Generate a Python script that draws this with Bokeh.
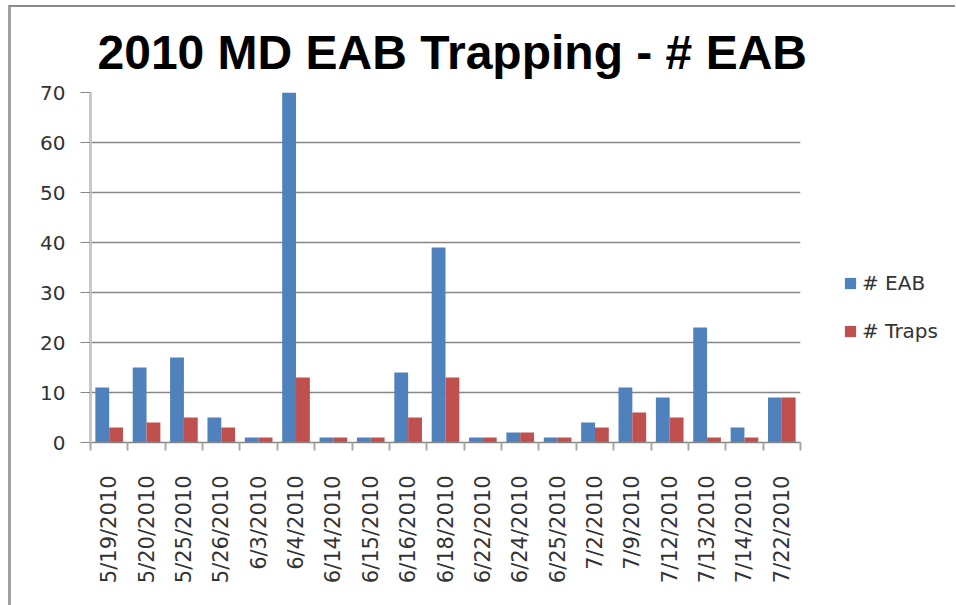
from bokeh.plotting import figure
from bokeh.models import (ColumnDataSource, Range1d, FixedTicker, Legend, LegendItem)
from bokeh.layouts import row
from bokeh.embed import file_html
from bokeh.resources import INLINE
from math import pi

dates = ["5/19/2010", "5/20/2010", "5/25/2010", "5/26/2010", "6/3/2010", "6/4/2010",
         "6/14/2010", "6/15/2010", "6/16/2010", "6/18/2010", "6/22/2010", "6/24/2010",
         "6/25/2010", "7/2/2010", "7/9/2010", "7/12/2010", "7/13/2010", "7/14/2010",
         "7/22/2010"]
eab = [11, 15, 17, 5, 1, 70, 1, 1, 14, 39, 1, 2, 1, 4, 11, 9, 23, 3, 9]
traps = [3, 4, 5, 3, 1, 13, 1, 1, 5, 13, 1, 2, 1, 3, 6, 5, 1, 1, 9]
y_ticks = [0, 10, 20, 30, 40, 50, 60, 70]
series_names = ["# EAB", "# Traps"]
series_colors = ["#4F81BD", "#C0504D"]

idx = list(range(len(dates)))
bw = 0.37
src = ColumnDataSource(dict(
    x_eab=[i - bw / 2 for i in idx],
    x_trap=[i + bw / 2 for i in idx],
    eab=eab, traps=traps, date=dates))

H = 598
p = figure(width=799, height=H, output_backend="svg", toolbar_location=None,
           x_range=Range1d(-0.5, len(dates) - 0.5), y_range=Range1d(0, 70),
           min_border_left=79, min_border_right=10, min_border_top=85,
           min_border_bottom=H - 435, title="2010 MD EAB Trapping - # EAB")

p.title.text_font = "Liberation Sans"
p.title.text_font_style = "bold"
p.title.text_font_size = "48px"
p.title.align = "left"
p.title.offset = 7
p.title.text_color = "#000000"
p.title.vertical_align = "bottom"
p.title.standoff = 28

p.vbar(x="x_eab", top="eab", width=bw, source=src, fill_color=series_colors[0], line_color=None)
p.vbar(x="x_trap", top="traps", width=bw, source=src, fill_color=series_colors[1], line_color=None)

p.outline_line_color = None
p.xgrid.grid_line_color = None
p.ygrid.grid_line_color = "#868686"
p.ygrid.grid_line_width = 1.5
p.ygrid.ticker = FixedTicker(ticks=y_ticks)

p.yaxis.ticker = FixedTicker(ticks=y_ticks)
p.yaxis.axis_line_color = "#c8c8c8"
p.yaxis.axis_line_width = 3
p.yaxis.major_tick_out = 10
p.yaxis.major_tick_in = 0
p.yaxis.major_tick_line_color = "#868686"
p.yaxis.minor_tick_line_color = None
p.yaxis.major_label_text_font = "DejaVu Sans"
p.yaxis.major_label_text_font_size = "20px"
p.yaxis.major_label_text_color = "#333333"
p.yaxis.major_label_standoff = 15

p.xaxis.ticker = FixedTicker(ticks=idx, minor_ticks=[i - 0.5 for i in range(len(dates) + 1)])
p.xaxis.major_label_overrides = {i: d for i, d in zip(idx, dates)}
p.xaxis.major_label_orientation = pi / 2
p.xaxis.major_tick_line_color = None
p.xaxis.major_tick_out = 0
p.xaxis.major_tick_in = 0
p.xaxis.minor_tick_out = 8
p.xaxis.minor_tick_in = 0
p.xaxis.minor_tick_line_color = "#a8a8a8"
p.xaxis.minor_tick_line_width = 2
p.xaxis.axis_line_color = "#868686"
p.xaxis.axis_line_width = 1.5
p.xaxis.major_label_text_font = "DejaVu Sans"
p.xaxis.major_label_text_font_size = "21px"
p.xaxis.major_label_text_color = "#333333"
p.xaxis.major_label_standoff = 25

# legend panel (separate figure so that the legend is not clipped)
lg = figure(width=145, height=H, output_backend="svg", toolbar_location=None,
            x_range=Range1d(0, 1), y_range=Range1d(0, 1),
            min_border=0, outline_line_color=None)
lg.axis.visible = False
lg.grid.visible = False
items = []
for name, col in zip(series_names, series_colors):
    # zero-height swatch source: draws nothing in the frame, only the legend key
    sw = ColumnDataSource(dict(x=[0], top=[0]))
    r = lg.vbar(x="x", top="top", bottom=0, width=0.1, source=sw,
                fill_color=col, line_color=None)
    items.append(LegendItem(label=name, renderers=[r]))
legend = Legend(items=items, location=(33, 99), orientation="vertical",
                glyph_width=14, glyph_height=14, label_height=20,
                spacing=24, padding=0, margin=0, label_standoff=5,
                label_text_font="DejaVu Sans", label_text_font_size="20px",
                label_text_color="#333333", border_line_color=None,
                background_fill_alpha=0)
lg.add_layout(legend, "center")

layout = row(p, lg, spacing=0)
layout.styles = {"margin-left": "8px", "margin-top": "5px",
                 "border-left": "3px solid #a0a0a0", "border-top": "2px solid #8c8c8c",
                 "border-right": "none", "border-bottom": "none"}

open("out.html", "w").write(file_html(layout, INLINE))
